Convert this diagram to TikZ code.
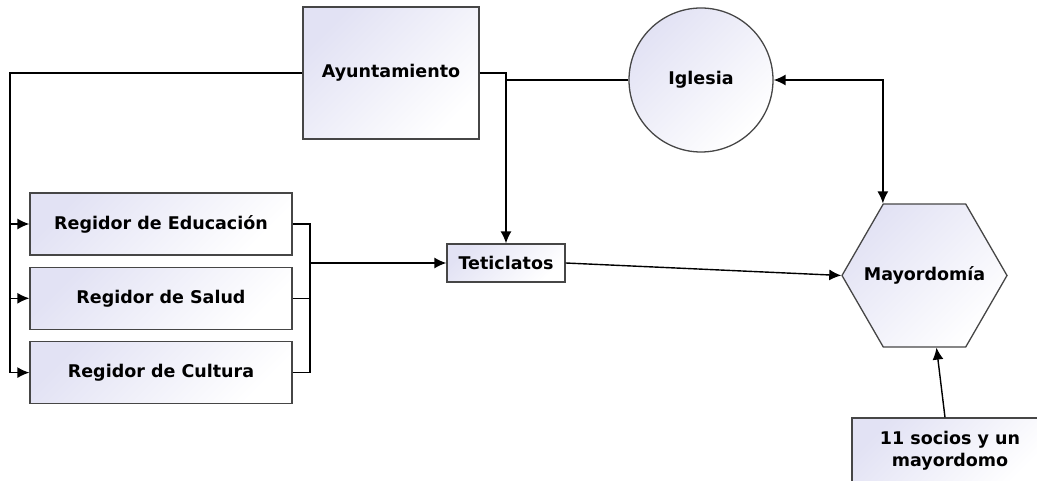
\documentclass[tikz,border=0pt]{standalone}
\usepackage{fontspec}
\setmainfont{DejaVu Sans}
\usetikzlibrary{arrows.meta}
\usetikzlibrary{positioning,shapes}
\definecolor{boxline}{RGB}{70,70,70}
\definecolor{boxfill}{RGB}{226,226,244}

\begin{document}
\begin{tikzpicture}[%
        x=1pt, y=-1pt,
        every node/.style={inner sep=0pt, align=center, font=\fontsize{17.5}{22}\selectfont\bfseries},
        box/.style={draw=boxline, line width=1.3pt, top color=boxfill, bottom color=white, shading angle=45},
        regidor/.style={box, minimum width=262pt, minimum height=62pt},
        arr/.style={-{Latex[length=12pt,width=11pt]}},
        dblarr/.style={{Latex[length=12pt,width=11pt]}-{Latex[length=12pt,width=11pt]}},
        line width=1.4pt, node distance=11pt
      ]
      \useasboundingbox (0,0) rectangle (1037,481);
      \node [box, minimum width=176pt, minimum height=132pt] (ayto) at (391,73) {Ayuntamiento};
      \node [box, circle, minimum size=144pt] (igl) at (701,80) {Iglesia};
      \node [regidor] (edu) at (161,224) {Regidor de Educación};
      \node [regidor, below=of edu] (sal) {Regidor de Salud};
      \node [regidor, below=of sal] (cul) {Regidor de Cultura};
      \node [box, minimum width=118pt, minimum height=38pt] (tet) at (506,263) {Teticlatos};
      \node [box, regular polygon, regular polygon sides=6, minimum size=165pt,
             label={center:Mayordomía}] (may) at (924.5,275.5) {};
      \node [box, minimum width=196pt, minimum height=65pt] (soc) at (950,450.5) {11 socios y un\\mayordomo};
      \coordinate (lbus) at (10,73);
      \coordinate (rbus) at (310,263);
      % ayuntamiento a los regidores
      \draw [arr] (ayto.west) -- (lbus) |- (edu.west);
      \draw [arr] (lbus) |- (sal.west);
      \draw [arr] (lbus) |- (cul.west);
      % regidores a teticlatos
      \draw (edu.east) -| (rbus);
      \draw (sal.east) -| (rbus);
      \draw (cul.east) -| (rbus);
      \draw [arr] (rbus) -- (tet.west);
      \draw [arr] (ayto.east) -| (tet.north);
      \draw (igl.west) -- (igl.west -| tet.north);
      \draw [dblarr] (igl.east) -| (may.120);
      \draw [arr] (tet.east) -- (may.west);
      \draw [arr] ([xshift=-5pt]soc.north) -- ([xshift=12pt]may.south);
    \end{tikzpicture}
\end{document}
